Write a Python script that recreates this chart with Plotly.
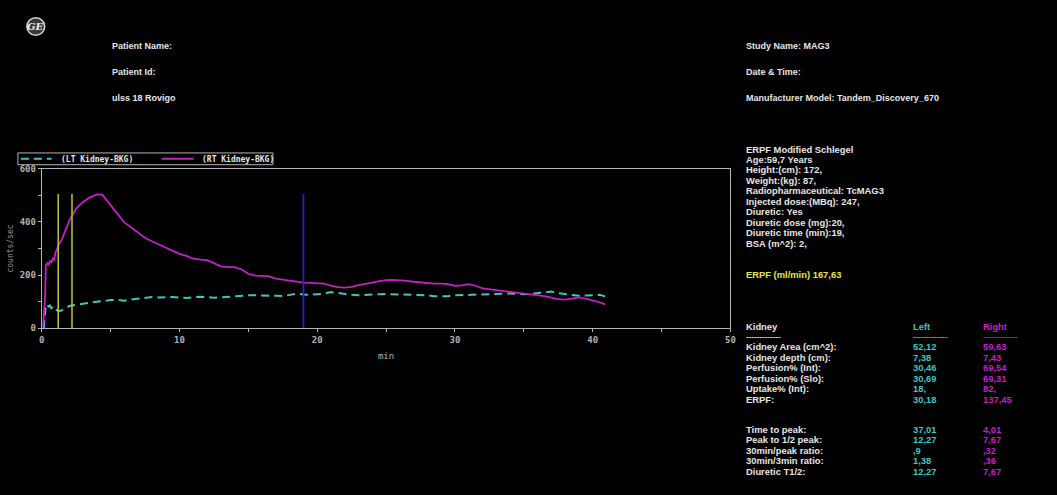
import plotly.graph_objects as go

W, H = 1057, 495

# ---------------- data ----------------
rt_time = [0.1, 0.25, 0.3, 0.4, 0.5, 0.6, 0.7, 0.8, 0.9, 1.0, 1.1, 1.2, 1.5, 2.0, 2.5, 3.0, 3.5, 4.0, 4.4,
           5.0, 5.5, 6.0, 6.5, 7.0, 7.5, 8.0, 8.5, 9.0, 9.5, 10.0, 10.5, 11.0, 11.5, 12.0, 12.5, 13.0,
           13.5, 14.0, 14.5, 15.0, 15.5, 16.0, 16.5, 17.0, 17.5, 18.0, 18.5, 19.0, 19.5, 20.0, 20.5,
           21.0, 21.5, 22.0, 22.5, 23.0, 23.5, 24.0, 24.5, 25.0, 25.5, 26.0, 26.5, 27.0, 27.5, 28.0,
           28.5, 29.0, 29.5, 30.0, 30.5, 31.0, 31.5, 32.0, 32.5, 33.0, 33.5, 34.0, 34.5, 35.0, 35.5,
           36.0, 36.5, 37.0, 37.5, 38.0, 38.5, 39.0, 39.5, 40.0, 40.5, 40.9]
rt_counts = [5, 120, 235, 245, 240, 252, 248, 262, 258, 285, 296, 310, 338, 405, 450, 475, 492, 503, 502,
             465, 430, 398, 378, 358, 340, 327, 315, 305, 290, 280, 272, 262, 258, 256, 245, 233,
             230, 230, 222, 205, 198, 197, 195, 187, 183, 180, 175, 172, 171, 170, 168,
             160, 155, 153, 156, 162, 168, 172, 177, 181, 182, 181, 178, 175, 172, 169,
             168, 168, 166, 160, 161, 166, 160, 150, 147, 143, 140, 137, 133, 130, 127,
             125, 121, 115, 110, 108, 113, 116, 112, 106, 98, 90]

lt_time = [0.15, 0.25, 0.3, 0.4, 0.5, 0.6, 0.7, 0.8, 0.9, 1.0, 1.2, 1.4, 1.7, 2.0, 2.5, 3.0, 3.5, 4.0, 4.5,
           5.0, 5.5, 6.0, 6.5, 7.0, 7.5, 8.0, 8.5, 9.0, 9.5, 10.0, 10.5, 11.0, 11.5, 12.0, 12.5, 13.0,
           13.5, 14.0, 14.5, 15.0, 15.5, 16.0, 16.5, 17.0, 17.5, 18.0, 18.5, 19.0, 19.5, 20.0, 20.5,
           21.0, 21.5, 22.0, 22.5, 23.0, 23.5, 24.0, 24.5, 25.0, 25.5, 26.0, 26.5, 27.0, 27.5, 28.0,
           28.5, 29.0, 29.5, 30.0, 30.5, 31.0, 31.5, 32.0, 32.5, 33.0, 33.5, 34.0, 34.5, 35.0, 35.5,
           36.0, 36.5, 37.0, 37.5, 38.0, 38.5, 39.0, 39.5, 40.0, 40.5, 40.9]
lt_counts = [0, 60, 88, 90, 82, 86, 76, 80, 70, 72, 65, 66, 75, 84, 88, 93, 96, 100, 104,
             106, 107, 104, 108, 112, 116, 118, 116, 117, 118, 115, 114, 117, 119, 117, 115, 116,
             118, 120, 123, 124, 124, 124, 123, 122, 121, 125, 130, 127, 126, 128, 130,
             136, 132, 128, 126, 124, 126, 127, 128, 129, 128, 127, 128, 127, 126, 124,
             121, 120, 121, 124, 125, 125, 126, 128, 129, 129, 130, 131, 130, 128, 130,
             133, 137, 138, 132, 128, 124, 122, 123, 125, 126, 120]

marker_times = [1.2, 2.2]      # yellow frame markers (min)
diuretic_time = [19.0]         # blue diuretic marker (min)
marker_height = 505

x_ticks = [0, 10, 20, 30, 40, 50]
y_ticks = [0, 200, 400, 600]

series_names = ["(LT Kidney-BKG)", "(RT Kidney-BKG)"]

header_left = ["Patient Name:", "Patient Id:", "ulss 18 Rovigo"]
header_right = ["Study Name: MAG3", "Date & Time:", "Manufacturer Model: Tandem_Discovery_670"]
info_lines = ["ERPF Modified Schlegel", "Age:59,7 Years", "Height:(cm): 172,", "Weight:(kg): 87,",
              "Radiopharmaceutical: TcMAG3", "Injected dose:(MBq): 247,", "Diuretic: Yes",
              "Diuretic dose (mg):20,", "Diuretic time (min):19,", "BSA (m^2): 2,"]
erpf_total = "ERPF (ml/min) 167,63"

table_rows1 = ["Kidney Area (cm^2):", "Kidney depth (cm):", "Perfusion% (Int):",
               "Perfusion% (Slo):", "Uptake% (Int):", "ERPF:"]
left_vals1 = ["52,12", "7,38", "30,46", "30,69", "18,", "30,18"]
right_vals1 = ["59,63", "7,43", "69,54", "69,31", "82,", "137,45"]
table_rows2 = ["Time to peak:", "Peak to 1/2 peak:", "30min/peak ratio:", "30min/3min ratio:",
               "Diuretic T1/2:"]
left_vals2 = ["37,01", "12,27", ",9", "1,38", "12,27"]
right_vals2 = ["4,01", "7,67", ",32", ",36", "7,67"]

# ---------------- styles ----------------
CYAN = "#3fc4c4"
MAGENTA = "#c81ec8"
YELLOW = "#c8c03c"
BLUE = "#2323c8"
AXIS = "#b4b4b4"
TXT = "#e6e6e6"
MONO = "DejaVu Sans Mono"
SANS = "Liberation Sans"


def px(x):
    return x / W


def py(y):
    return 1 - y / H


fig = go.Figure()

fig.add_trace(go.Scatter(x=lt_time, y=lt_counts, mode="lines", name=series_names[0],
                         line=dict(color=CYAN, width=2, dash="8px,5px")))
fig.add_trace(go.Scatter(x=rt_time, y=rt_counts, mode="lines", name=series_names[1],
                         line=dict(color=MAGENTA, width=1.8)))
for t in marker_times:
    fig.add_trace(go.Scatter(x=[t, t], y=[0, marker_height], mode="lines", showlegend=False,
                             line=dict(color=YELLOW, width=1.5), hoverinfo="skip"))
for t in diuretic_time:
    fig.add_trace(go.Scatter(x=[t, t], y=[0, marker_height], mode="lines", showlegend=False,
                             line=dict(color=BLUE, width=1.8), hoverinfo="skip"))

tickfont = dict(family=MONO, size=9, color=AXIS, weight="bold")

fig.update_layout(
    width=W, height=H,
    paper_bgcolor="black", plot_bgcolor="black",
    margin=dict(l=0, r=0, t=0, b=0),
    showlegend=False,
    xaxis=dict(domain=[px(39), px(733)], range=[0, 50], tickvals=x_ticks,
               showgrid=False, zeroline=False, showline=True, linecolor=AXIS, linewidth=1,
               mirror=True, ticks="outside", ticklen=3, tickcolor=AXIS,
               minor=dict(dtick=5, ticks="outside", ticklen=3, tickcolor=AXIS),
               tickfont=tickfont,
               title=dict(text="min", font=dict(family=MONO, size=9, color=AXIS), standoff=8)),
    yaxis=dict(domain=[1 - 330 / H, 1 - 167 / H], range=[0, 600], tickvals=y_ticks,
               showgrid=False, zeroline=False, showline=True, linecolor=AXIS, linewidth=1,
               mirror=True, ticks="outside", ticklen=3, tickcolor=AXIS,
               minor=dict(dtick=100, ticks="outside", ticklen=3, tickcolor=AXIS),
               tickfont=tickfont,
               title=dict(text="counts/sec", font=dict(family=MONO, size=8, color="#909090"),
                          standoff=4)),
)

ann = []


def text(x, y, s, color=TXT, size=9.4, family=SANS, anchor="left"):
    ann.append(dict(x=px(x), y=py(y), xref="paper", yref="paper", text=s, showarrow=False,
                    xanchor=anchor, yanchor="middle",
                    font=dict(family=family, size=size, color=color, weight="bold")))


for i, s in enumerate(header_left):
    text(108, 42 + i * 26.5, s, size=9)
for i, s in enumerate(header_right):
    text(747, 42 + i * 26.5, s, size=9)
for i, s in enumerate(info_lines):
    text(747, 147 + i * 10.7, s)
text(747, 275, erpf_total, color="#e6e64a")

text(747, 328, "Kidney")
text(915, 328, "Left", color=CYAN)
text(985, 328, "Right", color=MAGENTA)
text(747, 338, "-------------", size=8)
text(915, 338, "-------------", color=CYAN, size=8)
text(985, 338, "-------------", color=MAGENTA, size=8)
for i, s in enumerate(table_rows1):
    y = 349 + i * 10.7
    text(747, y, s)
    text(915, y, left_vals1[i], color=CYAN)
    text(985, y, right_vals1[i], color=MAGENTA)
for i, s in enumerate(table_rows2):
    y = 433 + i * 10.7
    text(747, y, s)
    text(915, y, left_vals2[i], color=CYAN)
    text(985, y, right_vals2[i], color=MAGENTA)

# ---- compact legend (box, line samples, labels) ----
shapes = []
shapes.append(dict(type="rect", xref="paper", yref="paper", x0=px(15), x1=px(272),
                   y0=py(163), y1=py(151), line=dict(color=AXIS, width=1), fillcolor="black"))
shapes.append(dict(type="line", xref="paper", yref="paper", x0=px(18), x1=px(49),
                   y0=py(157), y1=py(157), line=dict(color=CYAN, width=2, dash="8px,5px")))
shapes.append(dict(type="line", xref="paper", yref="paper", x0=px(160), x1=px(192),
                   y0=py(157), y1=py(157), line=dict(color=MAGENTA, width=2)))
text(56, 157, series_names[0], size=8, family=MONO)
text(198, 157, series_names[1], size=8, family=MONO)

# GE logo
shapes.append(dict(type="circle", xref="paper", yref="paper", x0=px(24), x1=px(42),
                   y0=py(31), y1=py(13), line=dict(color="#d8d8d8", width=1.5), fillcolor="#3a3a3a"))
ann.append(dict(x=px(33), y=py(22), xref="paper", yref="paper", text="<i>GE</i>",
                showarrow=False, xanchor="center", yanchor="middle",
                font=dict(family="DejaVu Serif", size=10, color="#f0f0f0", weight="bold")))

fig.update_layout(annotations=ann, shapes=shapes)

fig.write_html("out.html", config={"displayModeBar": False},
               post_script="document.body.style.margin='0';document.body.style.overflow='hidden';")
